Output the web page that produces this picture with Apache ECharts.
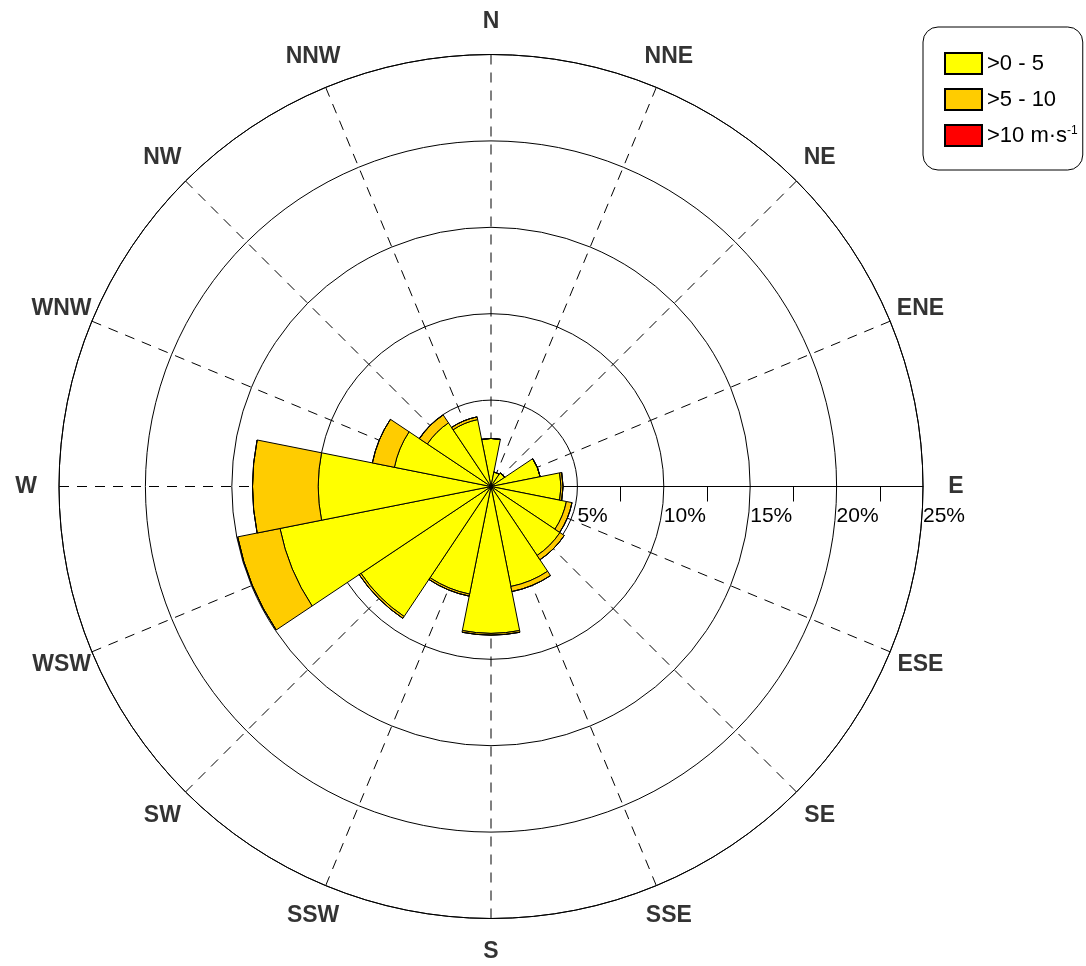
<!DOCTYPE html>
<html>
<head>
<meta charset="utf-8">
<script src="https://cdn.jsdelivr.net/npm/echarts@6/dist/echarts.min.js"></script>
<style>
html,body{margin:0;padding:0;background:#fff;}
#chart{width:1086px;height:966px;}
</style>
</head>
<body>
<div id="chart"></div>
<script>
// Directions (compass order, clockwise from North)
const directions = ['N','NNE','NE','ENE','E','ESE','SE','SSE','S','SSW','SW','WSW','W','WNW','NW','NNW'];
// Frequency (%) of each speed class per direction
const speed0to5   = [2.78, 0.85, 0.95, 2.9, 4.05, 4.45, 4.8, 5.9, 8.5, 6.35, 9.05, 12.45, 10.0, 5.7, 4.43, 3.95];
const speed5to10  = [0, 0, 0, 0, 0.12, 0.33, 0.3, 0.3, 0.1, 0.12, 0.13, 2.5, 3.8, 1.3, 0.55, 0.16];
const speedOver10 = [0, 0, 0, 0, 0, 0, 0, 0, 0, 0, 0, 0, 0, 0, 0, 0];
const seriesNames = ['>0 - 5', '>5 - 10', '>10 m·s-1'];
const radiusTicks = [0, 5, 10, 15, 20, 25];

const CENTER = [491, 486.5];
const RADIUS = 432;
const R_MAX = radiusTicks[radiusTicks.length - 1];
const LABEL_R = 26.9;

const chart = echarts.init(document.getElementById('chart'), null, {renderer: 'canvas'});

const barStyle = (color) => ({color: color, borderColor: '#000', borderWidth: 1});

const option = {
  animation: false,
  backgroundColor: '#fff',
  textStyle: {fontFamily: '"Liberation Sans", Arial, sans-serif'},
  legend: {
    data: seriesNames,
    orient: 'vertical',
    left: 923,
    top: 27,
    padding: [25, 5, 23, 21],
    itemGap: 13,
    itemWidth: 37,
    itemHeight: 21,
    icon: 'rect',
    borderColor: '#000',
    borderWidth: 1,
    borderRadius: 15,
    selectedMode: false,
    formatter: function (name) {
      if (name === seriesNames[2]) return '>10 m·s{sup|-1}';
      return name;
    },
    textStyle: {
      fontSize: 22,
      lineHeight: 21,
      color: '#000',
      rich: {
        sup: {fontSize: 12, lineHeight: 21, color: '#000', verticalAlign: 'top', padding: [0, 0, 0, 0]}
      }
    }
  },
  polar: [
    {center: CENTER, radius: RADIUS},
    {center: CENTER, radius: RADIUS}
  ],
  angleAxis: [
    {
      polarIndex: 0,
      type: 'value',
      min: 0,
      max: 360,
      interval: 22.5,
      startAngle: 0,
      clockwise: true,
      axisLine: {show: true, lineStyle: {color: '#000', width: 1}},
      axisTick: {show: false},
      axisLabel: {show: false},
      splitLine: {show: true, lineStyle: {color: '#000', width: 1, type: [10, 8]}}
    },
    {
      polarIndex: 1,
      type: 'category',
      data: directions,
      startAngle: 90 + 360 / directions.length / 2,
      clockwise: true,
      axisLine: {show: false},
      axisTick: {show: false},
      axisLabel: {show: false},
      splitLine: {show: false}
    }
  ],
  radiusAxis: [
    {
      polarIndex: 0,
      type: 'value',
      min: radiusTicks[0],
      max: R_MAX,
      interval: radiusTicks[1] - radiusTicks[0],
      axisLine: {show: true, lineStyle: {color: '#000', width: 1}},
      axisTick: {show: false},
      minorTick: {show: true, splitNumber: 2, length: -15, lineStyle: {color: '#000', width: 1}},
      axisLabel: {
        show: true,
        margin: -19,
        align: 'left',
        verticalAlign: 'top',
        fontSize: 21,
        color: '#000',
        formatter: function (v) { return v === 0 ? '' : v + '%'; }
      },
      splitLine: {show: true, lineStyle: {color: '#000', width: 1}}
    },
    {
      polarIndex: 1,
      type: 'value',
      min: radiusTicks[0],
      max: R_MAX,
      axisLine: {show: false},
      axisTick: {show: false},
      axisLabel: {show: false},
      splitLine: {show: false}
    }
  ],
  series: [
    {
      name: seriesNames[0], type: 'bar', coordinateSystem: 'polar', polarIndex: 1,
      stack: 'wind', barCategoryGap: '0%', data: speed0to5, itemStyle: barStyle('#FFFF00'), z: 3
    },
    {
      name: seriesNames[1], type: 'bar', coordinateSystem: 'polar', polarIndex: 1,
      stack: 'wind', barCategoryGap: '0%', data: speed5to10, itemStyle: barStyle('#FFCC00'), z: 3
    },
    {
      name: seriesNames[2], type: 'bar', coordinateSystem: 'polar', polarIndex: 1,
      stack: 'wind', barCategoryGap: '0%', data: speedOver10, itemStyle: barStyle('#FF0000'), z: 3
    },
    {
      name: 'dirLabels', type: 'scatter', coordinateSystem: 'polar', polarIndex: 1,
      clip: false, silent: true, symbolSize: 1,
      itemStyle: {color: 'rgba(0,0,0,0)'},
      data: directions.map(d => [LABEL_R, d]),
      label: {
        show: true, position: 'inside',
        formatter: p => p.value[1],
        fontSize: 23, fontWeight: 'bold', color: '#000',
        fontFamily: '"Liberation Sans", Arial, sans-serif'
      },
      z: 5
    }
  ]
};
chart.setOption(option);
</script>
</body>
</html>
